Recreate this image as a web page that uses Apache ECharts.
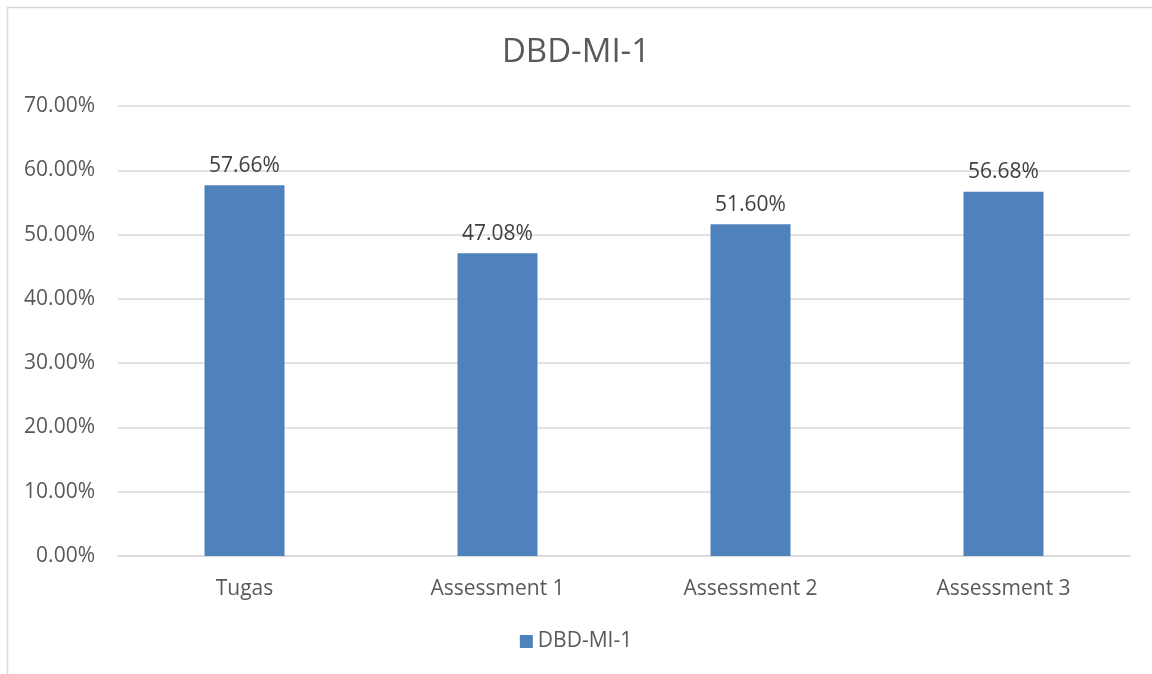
<!DOCTYPE html>
<html>
<head>
<meta charset="utf-8">
<script src="https://cdn.jsdelivr.net/npm/echarts@6/dist/echarts.min.js"></script>
<style>
  html, body { margin: 0; padding: 0; background: #fff; }
  #main { width: 1152px; height: 674px; }
</style>
</head>
<body>
<div id="main"></div>
<script>
// data
var categories = ['Tugas', 'Assessment 1', 'Assessment 2', 'Assessment 3'];
var scores = [57.66, 47.08, 51.60, 56.68];
var seriesName = 'DBD-MI-1';

var chart = echarts.init(document.getElementById('main'));
var font = '"Open Sans", "Liberation Sans", sans-serif';

chart.setOption({
    animation: false,
    textStyle: { fontFamily: font },
    graphic: [{
        type: 'rect',
        shape: { x: 7.5, y: 7.5, width: 1200, height: 700 },
        style: { fill: 'none', stroke: '#d9d9d9', lineWidth: 1.5 },
        silent: true
    }],
    title: {
        text: seriesName,
        left: 'center',
        top: 31,
        textStyle: { fontSize: 33, fontWeight: 'normal', color: '#595959', fontFamily: font }
    },
    legend: {
        data: [seriesName],
        bottom: 17,
        left: 'center',
        icon: 'rect',
        itemWidth: 13,
        itemHeight: 13,
        itemGap: 7,
        textStyle: { fontSize: 21, color: '#595959', fontFamily: font }
    },
    grid: { left: 118, right: 22, top: 106, bottom: 118 },
    xAxis: {
        type: 'category',
        data: categories,
        axisLine: { lineStyle: { color: '#d9d9d9', width: 1.5 } },
        axisTick: { show: false },
        axisLabel: { fontSize: 21, color: '#595959', margin: 23, fontFamily: font }
    },
    yAxis: {
        type: 'value',
        min: 0,
        max: 70,
        interval: 10,
        axisLine: { show: false },
        axisTick: { show: false },
        splitLine: { lineStyle: { color: '#d9d9d9', width: 1.5 } },
        axisLabel: {
            fontSize: 21, color: '#595959', margin: 23, fontFamily: font,
            formatter: function (v) { return v.toFixed(2) + '%'; }
        }
    },
    series: [{
        name: seriesName,
        type: 'bar',
        data: scores,
        barWidth: 80,
        itemStyle: { color: '#4F81BD' },
        label: {
            show: true,
            position: 'top',
            distance: 9,
            fontSize: 21,
            color: '#404040',
            fontFamily: font,
            formatter: function (p) { return p.value.toFixed(2) + '%'; }
        }
    }]
});
</script>
</body>
</html>
